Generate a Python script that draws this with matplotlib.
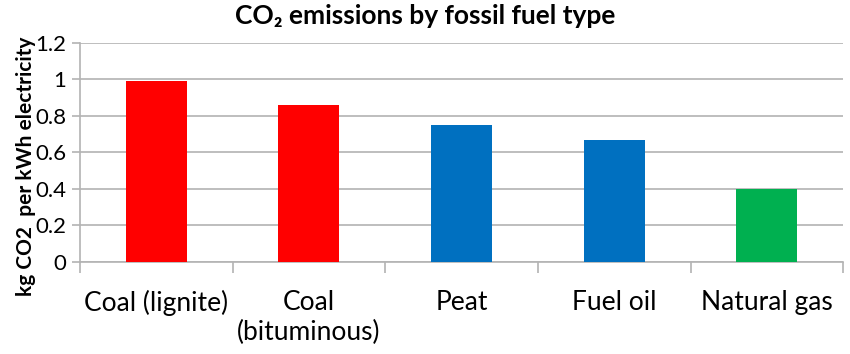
import matplotlib
matplotlib.use('Agg')
import matplotlib.pyplot as plt
import numpy as np

categories = ['Coal (lignite)', 'Coal\n(bituminous)', 'Peat', 'Fuel oil', 'Natural gas']
values = [0.99, 0.86, 0.75, 0.67, 0.40]
colors = ['#ff0000', '#ff0000', '#0070c0', '#0070c0', '#00b050']
yticks = [0, 0.2, 0.4, 0.6, 0.8, 1.0, 1.2]
ytick_labels = ['0', '0.2', '0.4', '0.6', '0.8', '1', '1.2']

plt.rcParams['font.family'] = ['Lato', 'DejaVu Sans']
grid_c = '#b3b3b3'

fig = plt.figure(figsize=(8.5, 3.54), dpi=100)
ax = fig.add_axes([0.094, 0.260, 0.898, 0.619])

x = np.arange(len(categories))
ax.bar(x, values, width=0.4, color=colors, zorder=3)

ax.set_xlim(-0.5, len(categories) - 0.5)
ax.set_ylim(0, 1.2)
ax.set_yticks(yticks)
ax.set_yticklabels(ytick_labels, fontsize=16)
ax.set_xticks(x)
ax.set_xticklabels(categories, fontsize=19, linespacing=1.25)
ax.set_xticks(np.arange(len(categories) + 1) - 0.5, minor=True)
ax.tick_params(axis='x', which='major', length=0, pad=20)
ax.tick_params(axis='x', which='minor', length=8, color=grid_c, width=1.2)
ax.tick_params(axis='y', length=6, color=grid_c, width=1.2, pad=4)

ax.grid(axis='y', color=grid_c, linewidth=1.2, zorder=0)
for s in ['top', 'right']:
    ax.spines[s].set_visible(False)
for s in ['left', 'bottom']:
    ax.spines[s].set_color(grid_c)
    ax.spines[s].set_linewidth(1.2)

ax.set_ylabel('kg CO2  per kWh electricity', fontsize=15, fontweight='bold')
ax.yaxis.set_label_coords(-0.057, 0.435)
fig.text(0.5, 0.955, 'CO\u2082 emissions by fossil fuel type', ha='center', va='center',
         fontsize=19, fontweight='bold')

fig.savefig('out.png', dpi=100)
